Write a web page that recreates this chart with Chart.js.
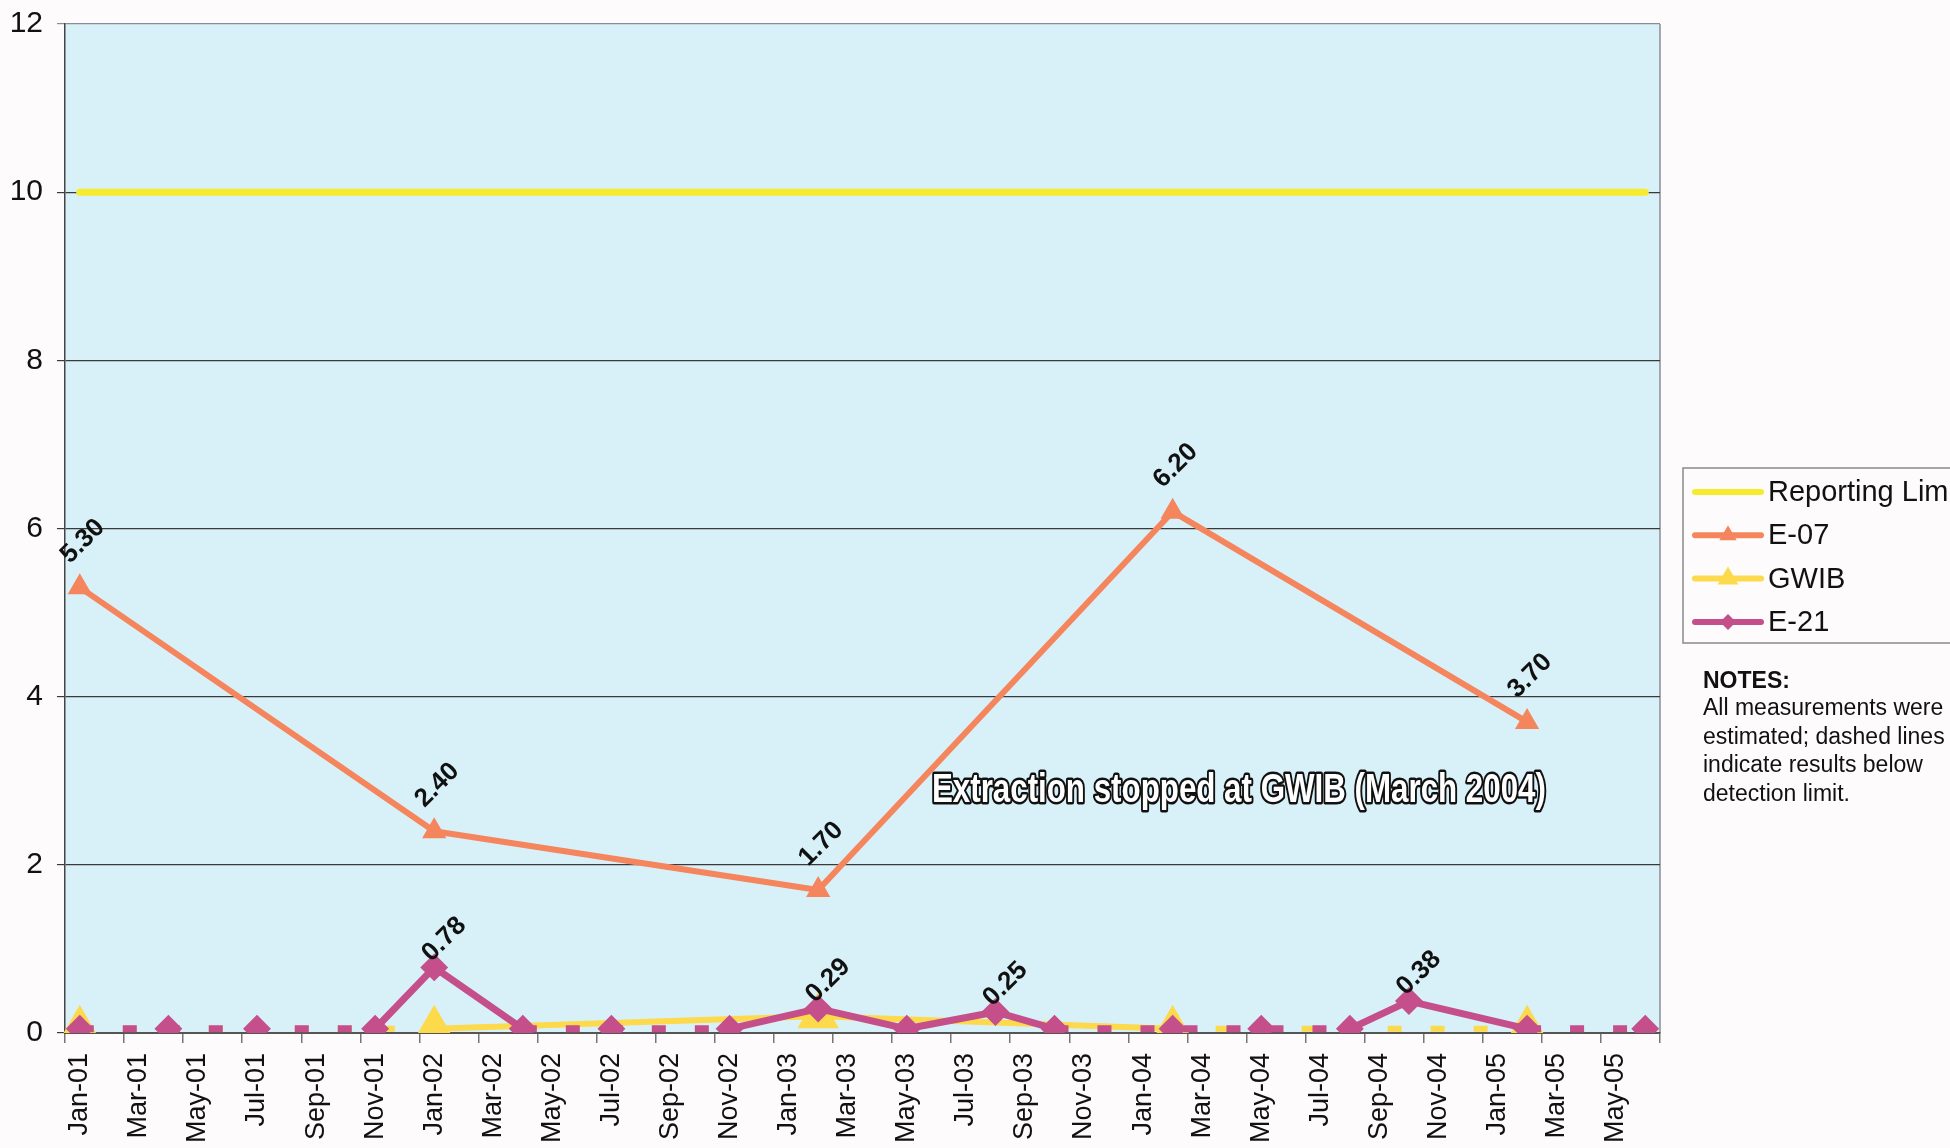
<!DOCTYPE html>
<html>
<head>
<meta charset="utf-8">
<script src="https://cdn.jsdelivr.net/npm/chart.js@4.4.1/dist/chart.umd.min.js"></script>
<style>
  html, body { margin: 0; padding: 0; background: #fdfbfb; overflow: hidden; }
  #wrap { width: 1950px; height: 1148px; position: relative; }
</style>
</head>
<body>
<div id="wrap"><canvas id="myChart"></canvas></div>
<script>
// monthly categories on the date axis (labels shown every 2 months)
const months = [
  'Jan-01', 'Feb-01', 'Mar-01', 'Apr-01', 'May-01', 'Jun-01', 'Jul-01', 'Aug-01', 'Sep-01', 'Oct-01', 'Nov-01', 'Dec-01',
  'Jan-02', 'Feb-02', 'Mar-02', 'Apr-02', 'May-02', 'Jun-02', 'Jul-02', 'Aug-02', 'Sep-02', 'Oct-02', 'Nov-02', 'Dec-02',
  'Jan-03', 'Feb-03', 'Mar-03', 'Apr-03', 'May-03', 'Jun-03', 'Jul-03', 'Aug-03', 'Sep-03', 'Oct-03', 'Nov-03', 'Dec-03',
  'Jan-04', 'Feb-04', 'Mar-04', 'Apr-04', 'May-04', 'Jun-04', 'Jul-04', 'Aug-04', 'Sep-04', 'Oct-04', 'Nov-04', 'Dec-04',
  'Jan-05', 'Feb-05', 'Mar-05', 'Apr-05', 'May-05', 'Jun-05'
];

const limitMonths = ['Jan-01', 'Jun-05'];
const limitValues = [10, 10];

const e07Months = ['Jan-01', 'Jan-02', 'Feb-03', 'Feb-04', 'Feb-05'];
const e07Values = [5.30, 2.40, 1.70, 6.20, 3.70];

const gwibMonths = ['Jan-01', 'Jan-02', 'Feb-03', 'Feb-04', 'Feb-05'];
const gwibValues = [0.05, 0.05, 0.20, 0.05, 0.05];
const gwibBelowDetection = [true, true, false, true, true];

const e21Months = ['Jan-01', 'Apr-01', 'Jul-01', 'Nov-01', 'Jan-02', 'Apr-02', 'Jul-02', 'Nov-02', 'Feb-03',
  'May-03', 'Aug-03', 'Oct-03', 'Feb-04', 'May-04', 'Aug-04', 'Oct-04', 'Feb-05', 'Jun-05'];
const e21Values = [0.05, 0.05, 0.05, 0.05, 0.78, 0.05, 0.05, 0.05, 0.29,
  0.05, 0.25, 0.05, 0.05, 0.05, 0.05, 0.38, 0.05, 0.05];
const e21BelowDetection = [true, true, true, true, false, true, true, true, false,
  true, false, true, true, true, true, false, true, true];

const noteLines = ['All measurements were', 'estimated; dashed lines', 'indicate results below', 'detection limit.'];
const annotation = 'Extraction stopped at GWIB (March 2004)';

const FONT = '"Liberation Sans", Arial, sans-serif';
const DASH = [14, 29];

function points(ms, vs) {
  return ms.map((m, i) => ({ x: m, y: vs[i] }));
}

// dashed where both ends are below detection
function dashIf(nd) {
  return ctx => (nd[ctx.p0DataIndex] && nd[ctx.p1DataIndex]) ? DASH : undefined;
}

const plotBackground = {
  id: 'plotBackground',
  beforeDraw(chart) {
    const { ctx, chartArea: a } = chart;
    ctx.save();
    ctx.fillStyle = '#d8f1f8';
    ctx.fillRect(a.left, a.top, a.right - a.left, a.bottom - a.top);
    ctx.strokeStyle = '#8c8c99';
    ctx.lineWidth = 1.5;
    ctx.beginPath();
    ctx.moveTo(a.right, a.top);
    ctx.lineTo(a.right, a.bottom);
    ctx.stroke();
    ctx.restore();
  }
};

const valueLabels = {
  id: 'valueLabels',
  afterDatasetsDraw(chart) {
    const ctx = chart.ctx;
    chart.data.datasets.forEach((ds, di) => {
      if (!ds.labelOffset) return;
      const meta = chart.getDatasetMeta(di);
      meta.data.forEach((pt, i) => {
        if (ds.belowDetection && ds.belowDetection[i]) return;
        ctx.save();
        ctx.translate(pt.x + ds.labelOffset[0], pt.y - ds.labelOffset[1]);
        ctx.rotate(-Math.PI / 4);
        ctx.font = 'bold 26px ' + FONT;
        ctx.fillStyle = '#111';
        ctx.textAlign = 'center';
        ctx.textBaseline = 'middle';
        ctx.fillText(ds.data[i].y.toFixed(2), 0, 0);
        ctx.restore();
      });
    });
  }
};

const outlinedNote = {
  id: 'outlinedNote',
  afterDatasetsDraw(chart) {
    const { ctx, chartArea: a } = chart;
    const cx = a.left + (a.right - a.left) * 0.736;
    const cy = chart.scales.y.getPixelForValue(2.88);
    ctx.save();
    ctx.font = 'bold 41px "Liberation Sans Narrow", ' + FONT;
    const w = ctx.measureText(annotation).width;
    ctx.translate(cx, cy);
    ctx.scale(614 / w, 1);
    ctx.textAlign = 'center';
    ctx.textBaseline = 'middle';
    ctx.lineJoin = 'round';
    ctx.strokeStyle = '#111';
    ctx.lineWidth = 5;
    ctx.strokeText(annotation, 0, 0);
    ctx.fillStyle = '#ffffff';
    ctx.fillText(annotation, 0, 0);
    ctx.restore();
  }
};

function marker(ctx, style, x, y, r, color) {
  ctx.fillStyle = color;
  ctx.beginPath();
  if (style === 'triangle') {
    ctx.moveTo(x, y - r);
    ctx.lineTo(x + r * 0.866, y + r * 0.5);
    ctx.lineTo(x - r * 0.866, y + r * 0.5);
  } else {
    ctx.moveTo(x, y - r);
    ctx.lineTo(x + r, y);
    ctx.lineTo(x, y + r);
    ctx.lineTo(x - r, y);
  }
  ctx.closePath();
  ctx.fill();
}

const sideLegend = {
  id: 'sideLegend',
  afterDraw(chart) {
    const ctx = chart.ctx;
    const left = chart.chartArea.right + 23;
    const top = 468;
    ctx.save();
    ctx.strokeStyle = '#8a8a8a';
    ctx.lineWidth = 1.5;
    ctx.strokeRect(left, top, 320, 175);
    chart.data.datasets.forEach((ds, i) => {
      const yy = top + 24 + i * 43.3;
      ctx.strokeStyle = ds.borderColor;
      ctx.lineWidth = 6;
      ctx.lineCap = 'round';
      ctx.beginPath();
      ctx.moveTo(left + 12, yy);
      ctx.lineTo(left + 78, yy);
      ctx.stroke();
      if (ds.legendMarker) marker(ctx, ds.pointStyle, left + 45, yy, ds.legendMarker, ds.borderColor);
      ctx.fillStyle = '#111';
      ctx.font = '29px ' + FONT;
      ctx.textBaseline = 'middle';
      ctx.fillText(ds.label, left + 85, yy + 1);
    });
    ctx.font = 'bold 23px ' + FONT;
    ctx.fillText('NOTES:', left + 20, 682);
    ctx.font = '23px ' + FONT;
    noteLines.forEach((t, i) => ctx.fillText(t, left + 20, 709 + i * 28.5));
    ctx.restore();
  }
};

Chart.defaults.font.family = FONT;
Chart.defaults.color = '#111';

new Chart(document.getElementById('myChart'), {
  type: 'line',
  data: {
    labels: months,
    datasets: [{
      label: 'Reporting Limit',
      data: points(limitMonths, limitValues),
      borderColor: '#f7eb2e',
      borderWidth: 7,
      borderCapStyle: 'round',
      pointRadius: 0,
      order: 3
    }, {
      label: 'E-07',
      data: points(e07Months, e07Values),
      borderColor: '#f5855c',
      backgroundColor: '#f5855c',
      borderWidth: 6,
      pointStyle: 'triangle',
      pointRadius: 8,
      legendMarker: 10,
      labelOffset: [3, 46],
      order: 2
    }, {
      label: 'GWIB',
      data: points(gwibMonths, gwibValues),
      borderColor: '#fdd94c',
      backgroundColor: '#fdd94c',
      borderWidth: 6,
      pointStyle: 'triangle',
      pointRadius: 18,
      legendMarker: 12,
      segment: { borderDash: dashIf(gwibBelowDetection) },
      order: 1
    }, {
      label: 'E-21',
      data: points(e21Months, e21Values),
      borderColor: '#c44f8b',
      backgroundColor: '#c44f8b',
      borderWidth: 7,
      pointStyle: 'rectRot',
      pointRadius: 9,
      legendMarker: 8,
      belowDetection: e21BelowDetection,
      labelOffset: [10, 28],
      segment: { borderDash: dashIf(e21BelowDetection) },
      order: 0
    }]
  },
  options: {
    responsive: true,
    maintainAspectRatio: false,
    animation: false,
    spanGaps: true,
    events: [],
    elements: {
      line: { tension: 0, borderJoinStyle: 'round', borderCapStyle: 'butt' },
      point: { borderWidth: 1 }
    },
    layout: { padding: { top: 22, right: 290, left: 0, bottom: 0 } },
    plugins: { legend: { display: false }, tooltip: { enabled: false } },
    scales: {
      x: {
        offset: true,
        afterFit: s => { s.height = 115; },
        grid: {
          offset: true,
          drawOnChartArea: false,
          drawTicks: true,
          tickLength: 10,
          lineWidth: 1.5,
          color: c => (c.index === undefined || c.index % 2 === 0) ? '#777' : 'rgba(0,0,0,0)'
        },
        border: { display: true, color: '#555', width: 2 },
        ticks: {
          autoSkip: false,
          minRotation: 90,
          maxRotation: 90,
          padding: 10,
          font: { size: 27 },
          color: '#111',
          callback: function (v, i) { return i % 2 === 0 ? this.getLabelForValue(v) : ''; }
        }
      },
      y: {
        min: 0,
        max: 12,
        afterFit: s => { s.width = 65; s.paddingTop = 10; s.paddingBottom = 10; },
        grid: {
          tickLength: 8,
          lineWidth: 1.2,
          color: c => c.tick && c.tick.value === 12 ? '#8c8c99' : '#3a3a3a'
        },
        border: { display: true, color: '#444', width: 1.5 },
        ticks: { stepSize: 2, padding: 14, font: { size: 30 }, color: '#111' }
      }
    }
  },
  plugins: [plotBackground, valueLabels, outlinedNote, sideLegend]
});
</script>
</body>
</html>
